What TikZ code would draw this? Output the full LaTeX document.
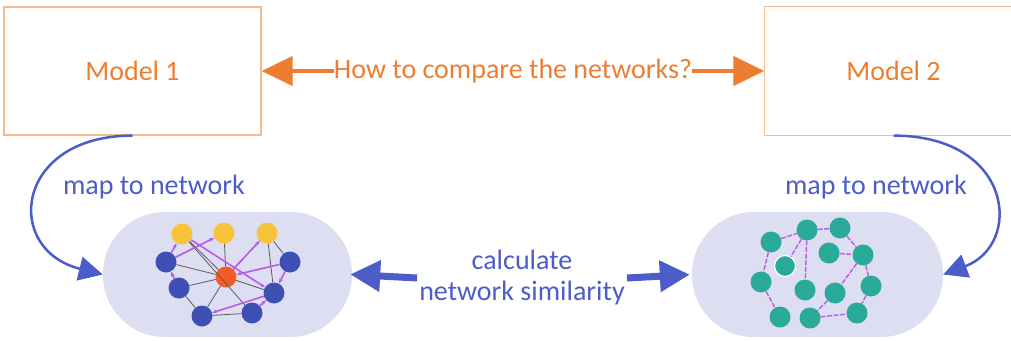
\documentclass[tikz,border=0pt]{standalone}
\usepackage{fontspec}
\setmainfont{Carlito}
\usetikzlibrary{positioning, arrows.meta, calc}
\definecolor{MOrange}{RGB}{237,125,49}
\definecolor{MOrangeLt}{RGB}{247,186,140}
\definecolor{MBlue}{RGB}{76,92,200}
\definecolor{MPill}{RGB}{222,222,242}
\definecolor{NYellow}{RGB}{246,196,56}
\definecolor{NBlue}{RGB}{62,80,180}
\definecolor{NRed}{RGB}{242,92,38}
\definecolor{NTeal}{RGB}{42,170,152}
\definecolor{NPurple}{RGB}{182,92,232}
\definecolor{NGray}{RGB}{90,90,90}

\begin{document}
\begin{tikzpicture}[x=1pt, y=-1pt,
    modelbox/.style={rectangle, draw=MOrangeLt, line width=1.2pt,
                     minimum width=257pt, minimum height=128pt,
                     text=MOrange, font=\fontsize{28}{32}\selectfont},
    pill/.style={rectangle, rounded corners=62pt, fill=MPill,
                 minimum height=125pt},
    bluetext/.style={text=MBlue, font=\fontsize{28}{31}\selectfont},
    orangearrow/.style={MOrange, line width=4pt,
                        {Triangle[length=31pt, width=29pt]}-{Triangle[length=31pt, width=29pt]}},
    bluearrow/.style={MBlue, line width=7pt, -{Triangle[length=30pt, width=30pt]}},
    maparrow/.style={MBlue, line width=2.5pt, -{Triangle[length=24pt, width=24pt]}},
    gnode/.style={circle, inner sep=0pt, minimum size=21pt},
    pedge/.style={NPurple, line width=1.6pt, -{Stealth[length=5pt]}},
    gedge/.style={NGray, line width=0.8pt},
    tedge/.style={NPurple, line width=1.4pt, dash pattern=on 5pt off 1.5pt}
  ]
  \useasboundingbox (0,0) rectangle (1011,340);

  % Models
  \node[modelbox] (m1) at (132.5,71) {Model 1};
  \node[modelbox, draw=none] (m2) at (893.5,71) {Model 2};
  \draw[MOrangeLt, line width=1.2pt]
        (m2.north east) -- (m2.north west) -- (m2.south west) -- (m2.south east);
  \draw[orangearrow] (m1.east) -- (m2.west);
  \node[fill=white, inner xsep=0pt, text=MOrange,
        font=\fontsize{28}{32}\selectfont]
        (ask) at ($(m1.east)!0.5!(m2.west)$) {How to compare the networks?};

  % Network pills
  \node[pill, minimum width=249pt] (pillL) at (227.5,274.5) {};
  \node[pill, minimum width=251pt] (pillR) at (817.5,274.5) {};

  % Map arrows
  \draw[maparrow] (m1.south) .. controls +(-118,0) and +(-100,-25) .. (pillL.west);
  \draw[maparrow] (m2.south) .. controls +(120,0) and +(80,-30) .. (pillR.east);
  \node[bluetext] (mapL) at (154,187) {map to network};
  \node[bluetext] (mapR) at (876,187) {map to network};

  % Similarity
  \node[bluetext, align=center, inner xsep=2pt] (calc) at (522,278)
        {calculate\\network similarity};
  \draw[bluearrow, shorten >=-2pt] (calc.west) -- (pillL.east);
  \draw[bluearrow, shorten >=2pt] (calc.east) -- (pillR.west);

  % Left network
  \node[gnode, fill=NYellow] (y1) at (182,234) {};
  \node[gnode, fill=NYellow] (y2) at (224,233) {};
  \node[gnode, fill=NYellow] (y3) at (267,233) {};
  \node[gnode, fill=NBlue] (b1) at (166,262) {};
  \node[gnode, fill=NBlue] (b2) at (179,288) {};
  \node[gnode, fill=NBlue] (b3) at (202,316) {};
  \node[gnode, fill=NBlue] (b4) at (252,313) {};
  \node[gnode, fill=NBlue] (b5) at (274,293) {};
  \node[gnode, fill=NBlue] (b6) at (290,262) {};
  \node[gnode, fill=NRed] (r) at (226,277) {};
  \foreach \a/\b in {y1/r, y2/r, y3/r, b1/r, b2/r, b3/r, b2/b3,
                     b3/b4, y3/b5, y3/b6, b4/y1, b5/r}
    \draw[gedge] (\a) -- (\b);
  \foreach \a/\b in {b1/y1, b1/y2, b2/b1, y1/b5, r/y3, b6/r,
                     b5/b3, b4/b5, b6/b5}
    \draw[pedge] (\a) -- (\b);

  % Right network
  \node[gnode, fill=NTeal] (n1) at (771,242) {};
  \node[gnode, fill=NTeal] (n2) at (807,230) {};
  \node[gnode, fill=NTeal] (n3) at (840,228) {};
  \node[gnode, fill=NTeal] (n4) at (829,253) {};
  \node[gnode, fill=NTeal] (n5) at (863,255) {};
  \node[gnode, fill=NTeal, draw=white, line width=1.2pt] (n6) at (785,266) {};
  \node[gnode, fill=NTeal] (n7) at (761,282) {};
  \node[gnode, fill=NTeal] (n8) at (805,290) {};
  \node[gnode, fill=NTeal] (n9) at (835,293) {};
  \node[gnode, fill=NTeal] (n10) at (871,286) {};
  \node[gnode, fill=NTeal] (n11) at (780,317) {};
  \node[gnode, fill=NTeal] (n12) at (810,318) {};
  \node[gnode, fill=NTeal] (n13) at (857,313) {};
  \foreach \a/\b in {n1/n2, n2/n3, n3/n5, n4/n5, n2/n6, n2/n8, n1/n7,
                     n7/n11, n5/n9, n5/n10, n9/n12, n12/n13, n10/n13}
    \draw[tedge] (\a) -- (\b);
\end{tikzpicture}
\end{document}
